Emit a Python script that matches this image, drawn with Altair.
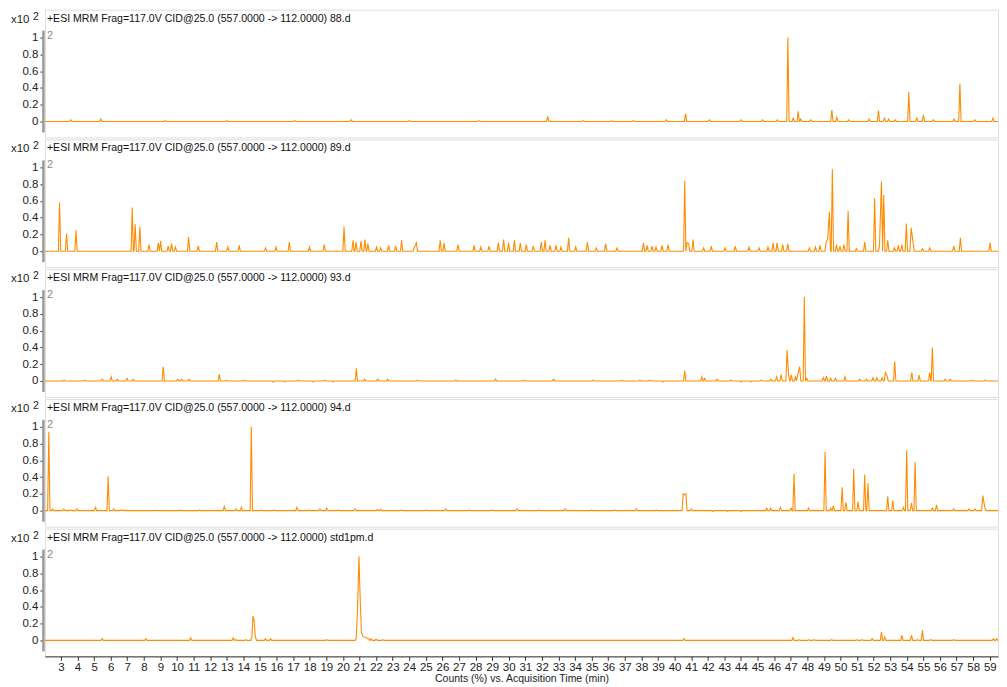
import altair as alt
import pandas as pd

FONT = "Liberation Sans"
ORANGE = "#ff8c00"

titles = [
    "+ESI MRM Frag=117.0V CID@25.0 (557.0000 -> 112.0000) 88.d",
    "+ESI MRM Frag=117.0V CID@25.0 (557.0000 -> 112.0000) 89.d",
    "+ESI MRM Frag=117.0V CID@25.0 (557.0000 -> 112.0000) 93.d",
    "+ESI MRM Frag=117.0V CID@25.0 (557.0000 -> 112.0000) 94.d",
    "+ESI MRM Frag=117.0V CID@25.0 (557.0000 -> 112.0000) std1pm.d",
]

y_ticks = [0, 0.2, 0.4, 0.6, 0.8, 1.0]
x_ticks = list(range(3, 60))

# peak apex times (min) and heights (x10^2 counts)
t88 = [3.6, 5.4, 9.3, 13.0, 17.1, 20.5, 24.0, 28.2, 32.35, 34.5, 36.2, 37.5, 39.5, 40.66,
       42.1, 44.0, 45.3, 46.2, 46.83, 47.15, 47.45, 47.6, 48.2, 49.48, 49.78, 50.5, 51.73,
       52.29, 52.65, 52.9, 53.3, 54.12, 54.6, 55.0, 55.6, 56.84, 57.2, 58.1, 59.19]
h88 = [0.02, 0.03, 0.01, 0.01, 0.01, 0.02, 0.01, 0.01, 0.06, 0.01, 0.01, 0.01, 0.02, 0.095,
       0.02, 0.02, 0.02, 0.02, 1.0, 0.04, 0.12, 0.03, 0.02, 0.14, 0.05, 0.02, 0.03,
       0.13, 0.04, 0.03, 0.02, 0.35, 0.04, 0.08, 0.02, 0.03, 0.45, 0.02, 0.04]

t89 = [2.92, 3.34, 3.91, 7.30, 7.48, 7.76, 8.31, 8.87, 9.01, 9.47, 9.67, 9.91, 10.70, 11.28,
       12.39, 13.06, 13.75, 15.34, 15.97, 16.77, 17.99, 18.88, 20.07, 20.61, 20.79, 21.09,
       21.33, 21.51, 22.03, 22.28, 22.76, 23.18, 23.54, 24.30, 24.43, 25.87, 26.10, 26.94,
       27.91, 28.31, 28.81, 29.37, 29.69, 29.99, 30.34, 30.70, 31.06, 31.48, 31.96, 32.19,
       32.49, 32.85, 33.15, 33.61, 34.04, 34.74, 35.28, 35.84, 36.53, 38.12, 38.34, 38.64,
       38.88, 39.24, 39.60, 40.61, 40.75, 40.85, 41.11, 41.75, 42.21, 43.04, 43.66, 44.49,
       45.09, 45.63, 45.94, 46.18, 46.52, 46.82, 48.13, 48.49, 48.77, 49.13, 49.23, 49.33,
       49.51, 49.76, 49.97, 50.21, 50.46, 50.96, 51.46, 52.06, 52.35, 52.47, 52.61, 52.85,
       53.25, 53.49, 53.70, 53.97, 54.26, 54.38, 54.94, 55.38, 56.83, 57.23, 59.02]
h89 = [0.58, 0.21, 0.25, 0.52, 0.32, 0.29, 0.08, 0.10, 0.12, 0.06, 0.09, 0.05, 0.17, 0.06,
       0.11, 0.05, 0.07, 0.04, 0.05, 0.11, 0.05, 0.08, 0.29, 0.13, 0.11, 0.12,
       0.14, 0.09, 0.05, 0.04, 0.07, 0.06, 0.13, 0.04, 0.10, 0.13, 0.10, 0.08,
       0.07, 0.05, 0.06, 0.10, 0.14, 0.10, 0.13, 0.10, 0.08, 0.06, 0.11, 0.13,
       0.07, 0.07, 0.05, 0.16, 0.05, 0.11, 0.04, 0.09, 0.04, 0.10, 0.07, 0.06,
       0.05, 0.07, 0.08, 0.84, 0.10, 0.09, 0.14, 0.04, 0.06, 0.04, 0.06, 0.05,
       0.04, 0.05, 0.10, 0.10, 0.08, 0.09, 0.04, 0.05, 0.07, 0.10, 0.15, 0.47,
       0.98, 0.08, 0.06, 0.08, 0.48, 0.03, 0.11, 0.63, 0.06, 0.83, 0.67, 0.13,
       0.04, 0.07, 0.08, 0.33, 0.28, 0.10, 0.03, 0.04, 0.06, 0.16, 0.10]

t93 = [3.20, 4.43, 5.49, 6.03, 6.40, 6.98, 7.36, 9.17, 10.04, 10.27, 10.72, 12.55, 12.95,
       14.04, 15.8, 16.5, 17.3, 18.2, 18.9, 19.4, 20.81, 21.31, 22.10, 22.70, 24.5, 26.8,
       29.2, 30.9, 32.7, 35.1, 36.83, 37.9, 38.5, 39.3, 40.61, 41.64, 41.81, 42.56, 43.40,
       44.0, 44.6, 45.2, 45.8, 46.15, 46.42, 46.78, 46.88, 47.04, 47.28, 47.42, 47.54,
       47.82, 47.97, 48.97, 49.15, 49.41, 49.70, 50.27, 51.16, 51.56, 51.96, 52.19, 52.51,
       52.71, 52.81, 53.27, 54.30, 54.74, 55.38, 55.54, 56.31, 56.61, 57.93, 58.70]
h93 = [0.01, 0.01, 0.02, 0.05, 0.02, 0.03, 0.02, 0.17, 0.02, 0.02, 0.02, 0.08, 0.01,
       0.01, -0.015, -0.01, 0.01, -0.01, 0.01, -0.01, 0.15, 0.02, 0.02, 0.02, 0.01, 0.01,
       0.02, 0.01, 0.02, 0.01, 0.01, 0.01, 0.01, -0.01, 0.12, 0.05, 0.03, 0.02, 0.01,
       -0.01, -0.01, 0.01, 0.02, 0.05, 0.08, 0.37, 0.05, 0.07, 0.05, 0.07, 0.17,
       1.0, 0.03, 0.04, 0.06, 0.03, 0.03, 0.05, 0.02, 0.02, 0.04, 0.04, 0.04,
       0.10, 0.06, 0.23, 0.10, 0.07, 0.10, 0.40, 0.02, 0.02, 0.01, 0.01]

t94 = [2.27, 2.50, 3.18, 3.60, 3.96, 5.09, 5.85, 6.18, 6.58, 6.76, 8.67, 10.16, 11.36, 12.85,
       13.55, 13.88, 14.48, 15.06, 15.84, 17.23, 17.93, 18.62, 19.02, 19.72, 20.73, 22.10,
       22.28, 23.5, 25.0, 26.2, 27.6, 29.0, 30.5, 31.8, 33.4, 35.0, 36.4, 37.7, 38.9,
       40.52, 40.60, 40.68, 41.0, 42.3, 43.2, 44.0, 45.55, 45.79, 46.38, 47.02, 47.20,
       48.07, 49.07, 49.41, 49.57, 50.10, 50.33, 50.80, 51.06, 51.46, 51.66, 52.85, 53.15,
       53.79, 53.99, 54.28, 54.50, 55.54, 55.79, 56.83, 57.75, 58.10, 58.58, 58.70]
h94 = [0.94, 0.02, 0.02, 0.01, 0.02, 0.04, 0.41, 0.02, 0.01, 0.01, 0.005, 0.01, 0.01, 0.05,
       0.02, 0.04, 1.0, 0.01, 0.01, 0.04, 0.01, 0.02, 0.03, 0.01, 0.02, 0.015,
       0.015, 0.01, 0.01, 0.02, 0.01, 0.01, 0.02, 0.01, 0.02, 0.01, 0.01, 0.02, 0.01,
       0.20, 0.19, 0.20, 0.02, -0.01, -0.01, -0.01, 0.03, 0.03, 0.04, 0.03, 0.44,
       0.03, 0.70, 0.03, 0.06, 0.28, 0.10, 0.50, 0.11, 0.43, 0.33, 0.17, 0.12,
       0.04, 0.72, 0.09, 0.58, 0.03, 0.07, 0.02, 0.02, 0.02, 0.18, 0.04]

tstd = [5.49, 8.12, 10.82, 13.39, 13.55, 14.15, 14.52, 14.58, 14.64, 14.72, 15.34, 15.64,
        19.02, 20.80, 20.88, 20.97, 21.05, 21.12, 21.20, 21.30, 21.42, 21.55, 21.7, 22.0,
        22.4, 40.57, 47.14, 47.5, 48.1, 48.4, 49.47, 51.0, 51.3, 51.91, 52.47, 52.67, 53.70,
        54.28, 54.64, 54.94, 55.44, 56.83, 59.22, 59.42]
hstd = [0.02, 0.02, 0.03, 0.03, 0.01, 0.01, 0.05, 0.29, 0.25, 0.05, 0.02, 0.02,
        0.01, 0.02, 0.35, 1.0, 0.45, 0.10, 0.05, 0.04, 0.03, 0.02, 0.02, 0.015,
        0.01, 0.02, 0.035, 0.01, 0.01, 0.01, 0.01, 0.01, 0.01, 0.02, 0.10, 0.04, 0.06,
        0.06, 0.01, 0.12, 0.01, 0.01, 0.02, 0.02]

series = [(t88, h88), (t89, h89), (t93, h93), (t94, h94), (tstd, hstd)]

X_MIN, X_MAX = 2.037, 59.497
Y_MAX = 1.3333
Y_MIN = -0.1905
W, H = 955, 128
HALF = 0.07  # half base width of a peak


def trace(times, heights):
    pts = [(X_MIN - 0.1, 0.0)]
    n = len(times)
    for i in range(n):
        t, h = times[i], heights[i]
        if i == 0 or t - times[i - 1] >= 2 * HALF - 1e-9:
            pts.append((t - HALF, 0.0))
        pts.append((t, h))
        if i == n - 1 or times[i + 1] - t >= 2 * HALF - 1e-9:
            pts.append((t + HALF, 0.0))
    pts.append((X_MAX + 0.1, 0.0))
    return pd.DataFrame({"t": [p[0] for p in pts], "v": [p[1] for p in pts],
                         "i": list(range(len(pts)))})


def panel(idx):
    df = trace(*series[idx])
    last = idx == len(series) - 1
    if last:
        xaxis = alt.Axis(values=x_ticks, format="d", title="Counts (%) vs. Acquisition Time (min)",
                         grid=False, domain=True, domainColor="#333", domainWidth=1,
                         tickColor="#333", tickSize=4, labelFontSize=11.5, labelColor="#222",
                         titleFontSize=10.5, titleFontWeight="normal", titleColor="#222",
                         labelPadding=1, titlePadding=1, labelFlush=False, labelOverlap=False)
    else:
        xaxis = None
    yaxis = alt.Axis(values=y_ticks, format="~g", title=None, grid=False, domain=False,
                     tickSize=3, tickColor="#333", offset=2, labelPadding=2,
                     labelFontSize=11.5, labelColor="#222")
    line = alt.Chart(df).mark_line(color=ORANGE, strokeWidth=1.1, clip=True).encode(
        x=alt.X("t:Q", scale=alt.Scale(domain=[X_MIN, X_MAX], nice=False, zero=False), axis=xaxis),
        y=alt.Y("v:Q", scale=alt.Scale(domain=[Y_MIN, Y_MAX], nice=False, zero=False), axis=yaxis),
        order="i:Q",
    )
    lab = pd.DataFrame({"label": [titles[idx]]})
    title_txt = alt.Chart(lab).mark_text(align="left", baseline="alphabetic", fontSize=10.6,
                                         font=FONT, color="#111").encode(
        text="label:N", x=alt.value(2), y=alt.value(12))
    x10 = alt.Chart(pd.DataFrame({"s": ["x10"]})).mark_text(
        align="left", baseline="alphabetic", fontSize=11.5, font=FONT, color="#222").encode(
        text="s:N", x=alt.value(-34), y=alt.value(13))
    sup = alt.Chart(pd.DataFrame({"s": ["2"]})).mark_text(
        align="left", baseline="alphabetic", fontSize=10.5, font=FONT, color="#222").encode(
        text="s:N", x=alt.value(-12), y=alt.value(10))
    gray2 = alt.Chart(pd.DataFrame({"s": ["2"]})).mark_text(
        align="left", baseline="alphabetic", fontSize=11, font=FONT, color="#8a8a8a").encode(
        text="s:N", x=alt.value(2), y=alt.value(29))
    ax_line = alt.Chart(pd.DataFrame({"a": [0]})).mark_rule(color="#9a9a9a", strokeWidth=2.5).encode(
        x=alt.value(-1.5), y=alt.value(21), y2=alt.value(123))
    return alt.layer(line, ax_line, title_txt, x10, sup, gray2).properties(width=W, height=H)


chart = alt.vconcat(*[panel(i) for i in range(len(series))], spacing=0).properties(
    padding={"left": 2, "top": 0, "right": 0, "bottom": 0}
).configure_view(stroke="#e6e6e6", strokeWidth=2).configure_axis(
    labelFont=FONT, titleFont=FONT
).configure(background="white")

chart.save("out.html", embed_options={"renderer": "svg", "actions": False})
